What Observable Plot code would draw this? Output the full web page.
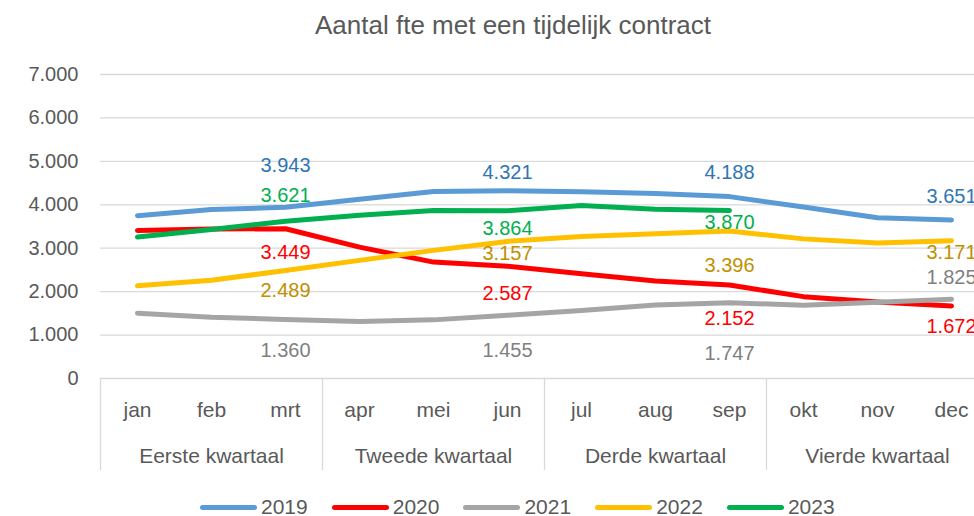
<!DOCTYPE html>
<html>
<head>
<meta charset="utf-8">
<script src="https://cdn.jsdelivr.net/npm/d3@7"></script>
<script src="https://cdn.jsdelivr.net/npm/@observablehq/plot@0.6"></script>
<style>
  html, body { margin: 0; padding: 0; background: #fff; }
  body { width: 974px; height: 516px; position: relative; overflow: hidden;
         font-family: "Liberation Sans", Arial, sans-serif; color: #595959; }
  #title { position: absolute; left: 0; top: 0; width: 1026px; height: 50px; line-height: 50px;
           text-align: center; font-size: 26px; color: #595959; white-space: nowrap; }
  #chart { position: absolute; left: 0; top: 50px; }
  #legend { position: absolute; left: 200px; top: 495px; height: 24px; display: flex; align-items: center; }
  .item { display: flex; align-items: center; margin-right: 24px; }
  .sw { width: 57px; height: 5px; border-radius: 3px; margin-right: 4px; }
  .lt { font-size: 21px; line-height: 24px; color: #595959; }
</style>
</head>
<body>
<div id="title">Aantal fte met een tijdelijk contract</div>
<div id="chart"></div>
<div id="legend"></div>
<script>
// ---- data ----
const months = ["jan", "feb", "mrt", "apr", "mei", "jun", "jul", "aug", "sep", "okt", "nov", "dec"];
const quarters = ["Eerste kwartaal", "Tweede kwartaal", "Derde kwartaal", "Vierde kwartaal"];
const years = ["2019", "2020", "2021", "2022", "2023"];
const v2019 = [3750, 3890, 3943, 4130, 4305, 4321, 4300, 4260, 4188, 3948, 3702, 3651];
const v2020 = [3410, 3440, 3449, 3025, 2680, 2587, 2410, 2245, 2152, 1885, 1760, 1672];
const v2021 = [1505, 1412, 1360, 1313, 1350, 1455, 1565, 1690, 1747, 1685, 1755, 1825];
const v2022 = [2135, 2260, 2489, 2720, 2950, 3157, 3270, 3335, 3396, 3215, 3122, 3171];
const v2023 = [3256, 3433, 3621, 3760, 3870, 3864, 3985, 3900, 3870];
const yTicks = [0, 1000, 2000, 3000, 4000, 5000, 6000, 7000];
const labelMonths = ["mrt", "jun", "sep", "dec"];

// ---- styles ----
const lineColors = ["#5B9BD5", "#FF0000", "#A5A5A5", "#FFC000", "#00B050"];
const labelColors = ["#2E75B6", "#FF0000", "#7F7F7F", "#BF9000", "#00B050"];
// vertical offsets (px) of each data label from its point, per year, per labelled month
const labelDy = {
  "2019": [-42, -18, -24, -23],
  "2020": [24, 27, 34, 21],
  "2021": [31, 35, 51, -22],
  "2022": [20, 12, 35, 12],
  "2023": [-26, 18, 12, 0]
};

const series = [v2019, v2020, v2021, v2022, v2023];
const fmt = d3.formatLocale({decimal: ",", thousands: ".", grouping: [3], currency: ["€", ""]}).format(",d");

const rows = [];
years.forEach((yr, k) => series[k].forEach((v, i) => rows.push({year: yr, i, v})));

const labelMarks = [];
years.forEach((yr, k) => {
  labelMonths.forEach((m, q) => {
    const i = months.indexOf(m);
    const v = series[k][i];
    if (v === undefined) return;
    labelMarks.push(Plot.text([{i, v}], {
      x: "i", y: "v", text: d => fmt(d.v), fill: labelColors[k],
      dy: labelDy[yr][q], fontSize: 20, textAnchor: "middle", lineAnchor: "middle"
    }));
  });
});

const monthIdx = months.map((d, i) => i);
const quarterMid = quarters.map((d, q) => q * 3 + 1);
const separators = [-0.5, 2.5, 5.5, 8.5, 11.5];

const chart = Plot.plot({
  width: 974,
  height: 435,
  marginLeft: 100,
  marginRight: 0,
  marginTop: 0,
  marginBottom: 107,
  x: {type: "linear", domain: [-0.5, 11.5], range: [100, 988], axis: null},
  y: {type: "linear", domain: [0, 7000], range: [328, 24], axis: null},
  color: {type: "ordinal", domain: years, range: lineColors},
  style: {fontFamily: "'Liberation Sans', Arial, sans-serif", color: "#595959", background: "#fff", overflow: "hidden"},
  marks: [
    Plot.ruleY(yTicks, {y: d => d, stroke: "#D9D9D9", strokeWidth: 1.3}),
    Plot.text(yTicks, {y: d => d, text: d => fmt(d), frameAnchor: "left", textAnchor: "end", dx: -22,
                       fontSize: 20, fill: "#595959", lineAnchor: "middle"}),
    Plot.ruleX(separators, {x: d => d, stroke: "#D9D9D9", strokeWidth: 1.3, insetTop: 328, insetBottom: -92}),
    Plot.text(monthIdx, {x: d => d, text: d => months[d], frameAnchor: "bottom", dy: 32,
                         fontSize: 21, fill: "#595959", lineAnchor: "middle"}),
    Plot.text(quarterMid, {x: d => d, text: (d, q) => quarters[q], frameAnchor: "bottom", dy: 78,
                           fontSize: 21, fill: "#595959", lineAnchor: "middle"}),
    Plot.line(rows, {x: "i", y: "v", z: "year", stroke: "year", strokeWidth: 5,
                     strokeLinecap: "round", strokeLinejoin: "round", curve: "linear"}),
    ...labelMarks
  ]
});
document.getElementById("chart").appendChild(chart);

// legend
const legend = document.getElementById("legend");
years.forEach((yr, k) => {
  const item = document.createElement("div");
  item.className = "item";
  const sw = document.createElement("div");
  sw.className = "sw";
  sw.style.background = lineColors[k];
  const t = document.createElement("span");
  t.className = "lt";
  t.textContent = yr;
  item.appendChild(sw);
  item.appendChild(t);
  legend.appendChild(item);
});
</script>
</body>
</html>
